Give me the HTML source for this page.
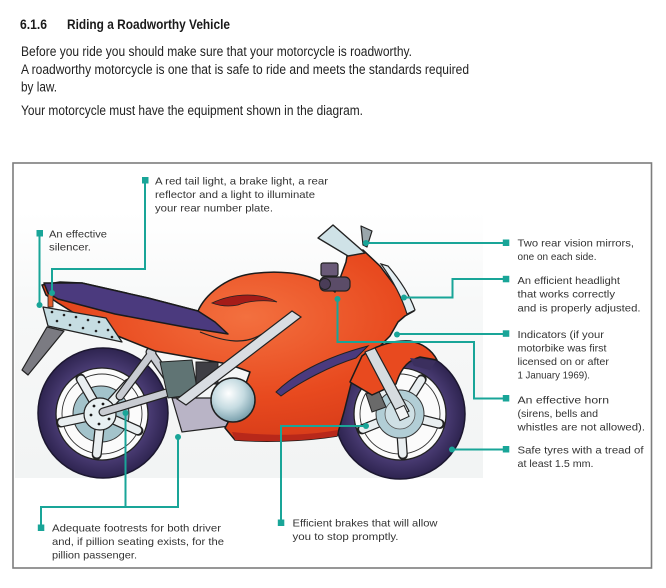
<!DOCTYPE html>
<html>
<head>
<meta charset="utf-8">
<style>
html,body{margin:0;padding:0;background:#fff;}
body{width:666px;height:588px;overflow:hidden;}
svg{display:block;}
text{font-family:"Liberation Sans",Arial,sans-serif;}
.h{font-size:13.5px;font-weight:bold;fill:#1a1a1a;}
.b{font-size:13.5px;fill:#222;}
.l{font-size:10.5px;fill:#333;}
.tl{stroke:#19a598;stroke-width:2;fill:none;}
.sq{fill:#19a598;}
.dt{fill:#19a598;}
.ol{stroke:#1b1b1b;stroke-width:1.5;stroke-linejoin:round;}
</style>
</head>
<body>
<svg width="666" height="588" viewBox="0 0 666 588" xmlns="http://www.w3.org/2000/svg">
<defs>
  <linearGradient id="bg" x1="0" y1="0" x2="0" y2="1">
    <stop offset="0" stop-color="#ffffff"/>
    <stop offset="0.35" stop-color="#f7f8f8"/>
    <stop offset="1" stop-color="#f2f4f4"/>
  </linearGradient>
  <radialGradient id="chrome" cx="0.4" cy="0.35" r="0.7">
    <stop offset="0" stop-color="#ffffff"/>
    <stop offset="0.5" stop-color="#c5dbe1"/>
    <stop offset="1" stop-color="#6f98a6"/>
  </radialGradient>
  <radialGradient id="red" cx="0.55" cy="0.35" r="0.7">
    <stop offset="0" stop-color="#f3703f"/>
    <stop offset="0.6" stop-color="#e84a1f"/>
    <stop offset="1" stop-color="#d53a18"/>
  </radialGradient>
  <radialGradient id="tyre" cx="0.5" cy="0.5" r="0.5">
    <stop offset="0.7" stop-color="#4a3c74"/>
    <stop offset="1" stop-color="#2e2450"/>
  </radialGradient>
</defs>

<!-- header -->
<text class="h" x="20" y="29" textLength="27" lengthAdjust="spacingAndGlyphs">6.1.6</text>
<text class="h" x="67" y="29" textLength="163" lengthAdjust="spacingAndGlyphs">Riding a Roadworthy Vehicle</text>
<text class="b" x="21" y="56" textLength="391" lengthAdjust="spacingAndGlyphs">Before you ride you should make sure that your motorcycle is roadworthy.</text>
<text class="b" x="21" y="74" textLength="448" lengthAdjust="spacingAndGlyphs">A roadworthy motorcycle is one that is safe to ride and meets the standards required</text>
<text class="b" x="21" y="91.5" textLength="36" lengthAdjust="spacingAndGlyphs">by law.</text>
<text class="b" x="21" y="115" textLength="342" lengthAdjust="spacingAndGlyphs">Your motorcycle must have the equipment shown in the diagram.</text>

<!-- box -->
<rect x="13" y="163" width="638.5" height="405" fill="none" stroke="#7d7d7d" stroke-width="1.6"/>

<!-- illustration background -->
<rect x="15" y="212" width="468" height="266" fill="url(#bg)"/>

<!-- ===== REAR WHEEL ===== -->
<circle cx="103" cy="413" r="65" fill="url(#tyre)" stroke="#1c1730" stroke-width="1.5"/>
<circle cx="102" cy="414" r="46" fill="#fbfbfb" stroke="#222" stroke-width="1.3"/>
<circle cx="102" cy="414" r="40" fill="none" stroke="#333" stroke-width="0.9"/>
<circle cx="101" cy="414" r="28" fill="#a3c3cb" stroke="#333" stroke-width="1"/>
<g transform="translate(101,414)">
  <g stroke="#222" stroke-width="10" stroke-linecap="round">
    <line x1="0" y1="-14" x2="0" y2="-41" transform="rotate(-30)"/>
    <line x1="0" y1="-14" x2="0" y2="-41" transform="rotate(42)"/>
    <line x1="0" y1="-14" x2="0" y2="-41" transform="rotate(114)"/>
    <line x1="0" y1="-14" x2="0" y2="-41" transform="rotate(186)"/>
    <line x1="0" y1="-14" x2="0" y2="-41" transform="rotate(258)"/>
  </g>
  <g stroke="#e9eef0" stroke-width="7.5" stroke-linecap="round">
    <line x1="0" y1="-14" x2="0" y2="-40" transform="rotate(-30)"/>
    <line x1="0" y1="-14" x2="0" y2="-40" transform="rotate(42)"/>
    <line x1="0" y1="-14" x2="0" y2="-40" transform="rotate(114)"/>
    <line x1="0" y1="-14" x2="0" y2="-40" transform="rotate(186)"/>
    <line x1="0" y1="-14" x2="0" y2="-40" transform="rotate(258)"/>
  </g>
</g>
<circle cx="100" cy="414" r="16" fill="#e8f0f2" stroke="#222" stroke-width="1.2"/>
<g fill="#1a1a1a">
  <circle cx="94" cy="406" r="1.4"/><circle cx="103" cy="404" r="1.4"/><circle cx="110" cy="409" r="1.4"/>
  <circle cx="91" cy="415" r="1.4"/><circle cx="109" cy="419" r="1.4"/><circle cx="99" cy="424" r="1.4"/>
  <circle cx="101" cy="413" r="1.2"/>
</g>

<!-- ===== FRONT WHEEL ===== -->
<circle cx="400" cy="414" r="65" fill="url(#tyre)" stroke="#1c1730" stroke-width="1.5"/>
<circle cx="400" cy="414" r="46" fill="#fbfbfb" stroke="#222" stroke-width="1.3"/>
<circle cx="400" cy="414" r="40" fill="none" stroke="#333" stroke-width="0.9"/>
<g transform="translate(400,414)">
  <g stroke="#222" stroke-width="10" stroke-linecap="round">
    <line x1="0" y1="-20" x2="0" y2="-41" transform="rotate(-40)"/>
    <line x1="0" y1="-20" x2="0" y2="-41" transform="rotate(32)"/>
    <line x1="0" y1="-20" x2="0" y2="-41" transform="rotate(104)"/>
    <line x1="0" y1="-20" x2="0" y2="-41" transform="rotate(176)"/>
    <line x1="0" y1="-20" x2="0" y2="-41" transform="rotate(248)"/>
  </g>
  <g stroke="#e9eef0" stroke-width="7.5" stroke-linecap="round">
    <line x1="0" y1="-20" x2="0" y2="-40" transform="rotate(-40)"/>
    <line x1="0" y1="-20" x2="0" y2="-40" transform="rotate(32)"/>
    <line x1="0" y1="-20" x2="0" y2="-40" transform="rotate(104)"/>
    <line x1="0" y1="-20" x2="0" y2="-40" transform="rotate(176)"/>
    <line x1="0" y1="-20" x2="0" y2="-40" transform="rotate(248)"/>
  </g>
</g>
<circle cx="400" cy="414" r="24" fill="#b2ced6" stroke="#333" stroke-width="1"/>
<circle cx="400" cy="414" r="15" fill="#cfe0e5" stroke="#555" stroke-width="0.8"/>
<polygon points="366,394 378,389 386,407 372,412" fill="#6a6a6a" stroke="#222" stroke-width="1"/>

<!-- ===== FRAME / SWINGARM ===== -->
<g stroke="#222" stroke-width="9" stroke-linecap="round">
  <line x1="103" y1="412" x2="176" y2="390"/>
  <line x1="120" y1="396" x2="152" y2="353"/>
  <line x1="150" y1="352" x2="182" y2="398"/>
  <line x1="182" y1="398" x2="226" y2="418"/>
</g>
<g stroke="#c9ccd2" stroke-width="6.5" stroke-linecap="round">
  <line x1="103" y1="412" x2="176" y2="390"/>
  <line x1="120" y1="396" x2="152" y2="353"/>
  <line x1="150" y1="352" x2="182" y2="398"/>
  <line x1="182" y1="398" x2="226" y2="418"/>
</g>
<polygon points="160,362 192,360 198,394 168,398" fill="#607474" stroke="#222" stroke-width="1"/>
<polygon points="172,398 214,398 230,426 182,432" fill="#b9b4c6" stroke="#222" stroke-width="1.2"/>
<rect x="196" y="362" width="22" height="22" fill="#3e3e44" stroke="#222" stroke-width="1"/>

<!-- ===== BODY ===== -->
<path class="ol" fill="url(#red)" d="M42,285 L60,282 L82,283 L148,298 L198,311 C205,295 225,278 250,274 C275,270 305,272 323,283 L335,292 L346,262 L347,256 L363,250 L380,266 L414,311 L405,316 L398,322 L390,336 L378,348 L367,357 L352,380 L344,412 L337,436 C300,442 260,442 235,440 L225,428 L240,400 L250,372 L228,364 L155,351 L125,339 L98,328 L58,303 L46,295 Z"/>
<path d="M232,432 C270,436 305,436 338,430 L337,436 C300,442 260,442 235,440 Z" fill="#b8281a"/>
<!-- seat -->
<path class="ol" fill="#4b3a7e" d="M44,283 L82,283 L148,298 L198,311 L215,322 L228,334 L190,328 L115,314 L58,299 L48,293 Z"/>
<rect x="48" y="294" width="5" height="13" fill="#e25a2a" stroke="#222" stroke-width="0.8"/>
<path d="M212,303 C235,292 262,293 277,302 C268,300 250,300 238,305 C228,307 220,306 212,303 Z" fill="#a51c18" stroke="#222" stroke-width="0.8"/>
<path d="M200,332 C225,342 245,345 262,334" fill="none" stroke="#222" stroke-width="1.2"/>
<path fill="#4b3a7e" stroke="#222" stroke-width="1" d="M276,392 C292,376 322,358 368,346 L356,358 C330,366 300,382 281,396 Z"/>
<polygon points="292,311 301,317 186,405 177,399" fill="#d9dde2" stroke="#222" stroke-width="1.2"/>
<circle cx="233" cy="400" r="22" fill="url(#chrome)" stroke="#1f1f1f" stroke-width="1.5"/>

<!-- front fender -->
<path class="ol" fill="#e84a1f" d="M350,382 L362,356 C375,345 395,340 410,341 C422,343 432,350 437,360 L420,357 C410,360 402,365 396,384 L372,395 Z"/>
<path d="M410,358 L436,361 L430,370 L414,366 Z" fill="#3b2f5e"/>
<polygon points="365,352 375,348 409,411 399,417" fill="#d6dce0" stroke="#222" stroke-width="1.2"/>
<rect x="397" y="407" width="10" height="12" fill="#f2f4f5" stroke="#222" stroke-width="1" transform="rotate(-25 402 413)"/>

<!-- windscreen / mirror / headlight / handlebar -->
<polygon points="318,238 333,225 365,253 348,256" fill="#cfe2e7" stroke="#222" stroke-width="1.4" stroke-linejoin="round"/>
<polygon points="361,226 372,231 367,247 363,245" fill="#9aa6ab" stroke="#222" stroke-width="1.2" stroke-linejoin="round"/>
<path d="M381,264 L388,266 C400,280 410,296 415,310 L407,314 C402,298 394,282 381,264 Z" fill="#e3eef2" stroke="#222" stroke-width="1.2"/>
<rect x="321" y="263" width="17" height="13" rx="2" fill="#6a5a78" stroke="#222" stroke-width="1.2"/>
<rect x="320" y="277" width="30" height="14" rx="5" fill="#5b4c68" stroke="#222" stroke-width="1.2"/>
<circle cx="325" cy="284" r="5.5" fill="#4a3d58" stroke="#222" stroke-width="1"/>

<!-- silencer -->
<polygon points="43,307 106,318 122,342 48,326" fill="#c6dde2" stroke="#222" stroke-width="1.3" stroke-linejoin="round"/>
<g fill="#222">
  <circle cx="52" cy="312" r="1.3"/><circle cx="64" cy="315" r="1.3"/><circle cx="76" cy="317" r="1.3"/>
  <circle cx="88" cy="320" r="1.3"/><circle cx="99" cy="322" r="1.3"/><circle cx="57" cy="321" r="1.3"/>
  <circle cx="70" cy="325" r="1.3"/><circle cx="83" cy="328" r="1.3"/><circle cx="96" cy="331" r="1.3"/>
  <circle cx="108" cy="330" r="1.3"/><circle cx="112" cy="337" r="1.3"/>
</g>
<polygon points="47,327 64,331 28,375 22,370" fill="#7b7b82" stroke="#222" stroke-width="1.2" stroke-linejoin="round"/>

<!-- ===== CONNECTORS ===== -->
<polyline class="tl" points="145,180 145,269 52,269 52,293"/>
<rect class="sq" x="142" y="177" width="6.5" height="6.5"/>
<circle class="dt" cx="52" cy="293" r="3"/>

<polyline class="tl" points="39.5,233 39.5,305"/>
<rect class="sq" x="36.5" y="230" width="6.5" height="6.5"/>
<circle class="dt" cx="39.5" cy="305" r="3"/>

<polyline class="tl" points="41,527 41,507 178,507 178,437"/>
<polyline class="tl" points="125.5,507 125.5,413"/>
<rect class="sq" x="37.8" y="524.5" width="6.5" height="6.5"/>
<circle class="dt" cx="178" cy="437" r="3"/>
<circle class="dt" cx="125.5" cy="413" r="3"/>

<polyline class="tl" points="281,523 281,426 366,426"/>
<rect class="sq" x="277.8" y="519.5" width="6.5" height="6.5"/>
<circle class="dt" cx="366" cy="426" r="3"/>

<polyline class="tl" points="366,243 506,243"/>
<circle class="dt" cx="366" cy="243" r="3"/>
<rect class="sq" x="502.8" y="239.5" width="6.5" height="6.5"/>

<polyline class="tl" points="506,279 452.5,279 452.5,297.5 404,297.5"/>
<circle class="dt" cx="404" cy="297.5" r="3"/>
<rect class="sq" x="502.8" y="275.8" width="6.5" height="6.5"/>

<polyline class="tl" points="397,334 506,334"/>
<circle class="dt" cx="397" cy="334.5" r="3"/>
<rect class="sq" x="502.8" y="330.3" width="6.5" height="6.5"/>

<polyline class="tl" points="337.5,299 337.5,342 474,342 474,398.5 506,398.5"/>
<circle class="dt" cx="337.5" cy="299" r="3"/>
<rect class="sq" x="502.8" y="395" width="6.5" height="6.5"/>

<polyline class="tl" points="452,449.5 506,449.5"/>
<circle class="dt" cx="452" cy="449.5" r="3"/>
<rect class="sq" x="502.8" y="446" width="6.5" height="6.5"/>

<!-- ===== LABELS ===== -->
<text class="l" x="155" y="184.5" textLength="173" lengthAdjust="spacingAndGlyphs">A red tail light, a brake light, a rear</text>
<text class="l" x="155" y="198" textLength="160" lengthAdjust="spacingAndGlyphs">reflector and a light to illuminate</text>
<text class="l" x="155" y="211.5" textLength="118" lengthAdjust="spacingAndGlyphs">your rear number plate.</text>

<text class="l" x="49" y="237.5" textLength="58" lengthAdjust="spacingAndGlyphs">An effective</text>
<text class="l" x="49" y="250.5" textLength="42" lengthAdjust="spacingAndGlyphs">silencer.</text>

<text class="l" x="52" y="531.5" textLength="169" lengthAdjust="spacingAndGlyphs">Adequate footrests for both driver</text>
<text class="l" x="52" y="545" textLength="172" lengthAdjust="spacingAndGlyphs">and, if pillion seating exists, for the</text>
<text class="l" x="52" y="558.5" textLength="85" lengthAdjust="spacingAndGlyphs">pillion passenger.</text>

<text class="l" x="292.5" y="526.5" textLength="145" lengthAdjust="spacingAndGlyphs">Efficient brakes that will allow</text>
<text class="l" x="292.5" y="540" textLength="106" lengthAdjust="spacingAndGlyphs">you to stop promptly.</text>

<text class="l" x="517.5" y="246.5" textLength="116.5" lengthAdjust="spacingAndGlyphs">Two rear vision mirrors,</text>
<text class="l" x="517.5" y="260" textLength="79" lengthAdjust="spacingAndGlyphs">one on each side.</text>

<text class="l" x="517.5" y="284" textLength="102.5" lengthAdjust="spacingAndGlyphs">An efficient headlight</text>
<text class="l" x="517.5" y="297.5" textLength="97.5" lengthAdjust="spacingAndGlyphs">that works correctly</text>
<text class="l" x="517.5" y="311.5" textLength="123" lengthAdjust="spacingAndGlyphs">and is properly adjusted.</text>

<text class="l" x="517.5" y="338" textLength="86.5" lengthAdjust="spacingAndGlyphs">Indicators (if your</text>
<text class="l" x="517.5" y="351.5" textLength="89" lengthAdjust="spacingAndGlyphs">motorbike was first</text>
<text class="l" x="517.5" y="365" textLength="91.5" lengthAdjust="spacingAndGlyphs">licensed on or after</text>
<text class="l" x="517.5" y="378.5" textLength="72.5" lengthAdjust="spacingAndGlyphs">1 January 1969).</text>

<text class="l" x="517.5" y="403.5" textLength="91.5" lengthAdjust="spacingAndGlyphs">An effective horn</text>
<text class="l" x="517.5" y="417" textLength="80.5" lengthAdjust="spacingAndGlyphs">(sirens, bells and</text>
<text class="l" x="517.5" y="430.5" textLength="127.5" lengthAdjust="spacingAndGlyphs">whistles are not allowed).</text>

<text class="l" x="517.5" y="453.5" textLength="126" lengthAdjust="spacingAndGlyphs">Safe tyres with a tread of</text>
<text class="l" x="517.5" y="467" textLength="76" lengthAdjust="spacingAndGlyphs">at least 1.5 mm.</text>
</svg>
</body>
</html>
